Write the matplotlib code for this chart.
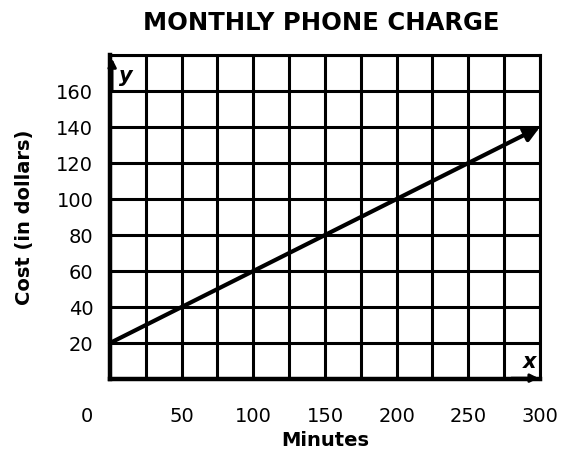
import numpy as np
import matplotlib.pyplot as plt
import matplotlib.transforms as mtransforms

# data
minutes = [0, 300]
cost = [20, 140]
x_ticks = [0, 50, 100, 150, 200, 250, 300]
y_ticks = [20, 40, 60, 80, 100, 120, 140, 160]

plt.rcParams['font.family'] = ['DejaVu Sans Condensed', 'Liberation Sans Narrow', 'DejaVu Sans']

fig = plt.figure(figsize=(5.71, 4.51), dpi=100)
ax = fig.add_axes([0.1926, 0.1596, 0.7531, 0.7184])
ax.set_xlim(0, 300)
ax.set_ylim(0, 180)

# grid
ax.set_xticks(np.arange(0, 301, 25), minor=True)
ax.set_yticks(np.arange(0, 181, 20), minor=True)
ax.grid(which='both', color='black', lw=2.2)
ax.tick_params(which='both', length=0)
ax.set_axisbelow(True)
for s in ax.spines.values():
    s.set_linewidth(2.2)
ax.spines['left'].set_linewidth(3.2)
ax.spines['bottom'].set_linewidth(3.2)

ax.set_xticks(x_ticks)
ax.set_xticklabels([''] + [str(v) for v in x_ticks[1:]], fontsize=14)
# origin label sits left of the axis
off = mtransforms.ScaledTranslation(-23 / 100, 0, fig.dpi_scale_trans)
ax.text(x_ticks[0], -0.0, str(x_ticks[0]), fontsize=14, ha='center', va='top',
        transform=ax.get_xaxis_transform() + off +
        mtransforms.ScaledTranslation(0, -20 / 72, fig.dpi_scale_trans))
ax.set_yticks(y_ticks)
ax.set_yticklabels([str(v) for v in y_ticks], fontsize=14)
ax.tick_params(axis='x', pad=20)
ax.tick_params(axis='y', pad=12)

# line with arrow
ax.annotate('', xy=(minutes[1], cost[1]), xytext=(minutes[0], cost[0]),
            arrowprops=dict(arrowstyle='-|>', color='black', lw=3, mutation_scale=22,
                            shrinkA=0, shrinkB=0))

# axis arrows
ax.annotate('', xy=(1.5, 178), xytext=(1.5, 160),
            arrowprops=dict(arrowstyle='-|>', color='black', lw=2, mutation_scale=12,
                            shrinkA=0, shrinkB=0))
ax.annotate('', xy=(299, 0.5), xytext=(280, 0.5),
            arrowprops=dict(arrowstyle='-|>', color='black', lw=2, mutation_scale=12,
                            shrinkA=0, shrinkB=0))
ax.text(6, 174, 'y', fontsize=15, style='italic', fontweight='bold', va='top')
ax.text(293, 4, 'x', fontsize=15, style='italic', fontweight='bold', ha='center', va='bottom')

ax.set_xlabel('Minutes', fontsize=14, fontweight='bold', labelpad=4)
ax.set_ylabel('Cost (in dollars)', fontsize=14, fontweight='bold', labelpad=16)
fig.text(0.563, 0.948, 'MONTHLY PHONE CHARGE', fontsize=17.5, fontweight='bold',
         ha='center', va='center')

fig.savefig('out.png', dpi=100)
